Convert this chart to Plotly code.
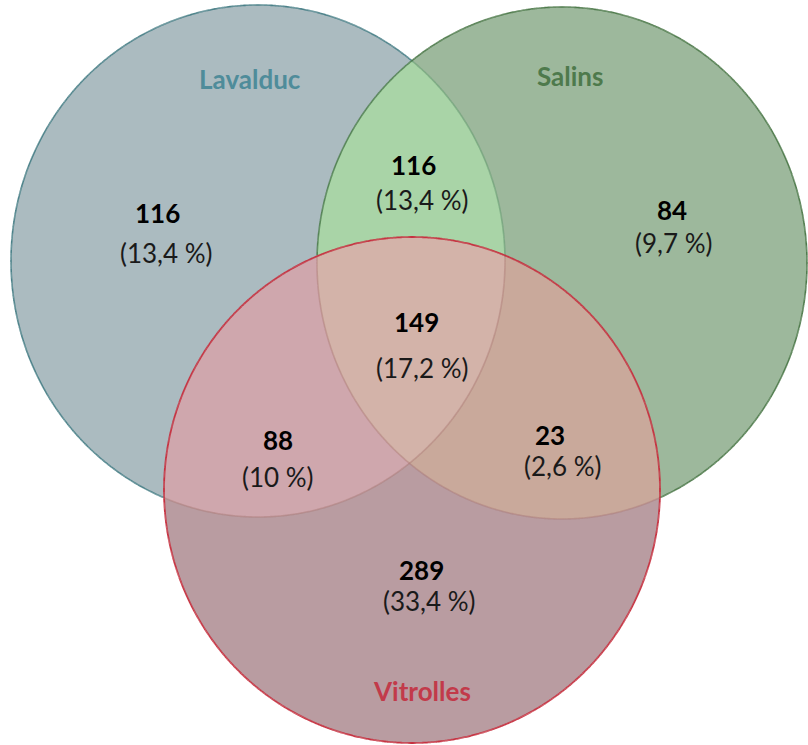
import numpy as np
import plotly.graph_objects as go

# ---------------- data ----------------
set_names = ["Lavalduc", "Salins", "Vitrolles"]
region_keys = ["L", "LS", "S", "LSV", "LV", "SV", "V"]
region_counts = [116, 116, 84, 149, 88, 23, 289]
region_percents = [13.4, 13.4, 9.7, 17.2, 10, 2.6, 33.4]

# ---------------- layout / style ----------------
W, H = 808, 745
# ellipse geometry (pixel coordinates): cx, cy, rx, ry
ellipses = {
    "L": (258, 261, 247, 256),
    "S": (562, 263, 245, 256),
    "V": (412, 490, 248, 253),
}
fill_colors = {
    "L": "#ABBBC0",
    "S": "#9DB89C",
    "V": "#B99CA1",
    "LS": "#A9D4A7",
    "LV": "#CFA7AD",
    "SV": "#C9A99B",
    "LSV": "#D3B3A9",
}
line_colors = {"L": "#4A8088", "S": "#4E7A4B", "V": "#C6303F"}
label_colors = {"Lavalduc": "#4F8C9A", "Salins": "#4E7A4C", "Vitrolles": "#C23A4A"}
label_pos = {"Lavalduc": (250, 79), "Salins": (570, 76), "Vitrolles": (422, 691)}
count_pos = {"L": (157, 213), "LS": (413, 165), "S": (672, 210), "LSV": (416, 322),
             "LV": (278, 440), "SV": (550, 435), "V": (421, 570)}
pct_pos = {"L": (166, 253), "LS": (422, 200), "S": (673, 243), "LSV": (422, 368),
           "LV": (278, 477), "SV": (562, 466), "V": (429, 601)}
FONT = "Lato"
FS = 26


def ellipse_poly(key, n=720):
    cx, cy, rx, ry = ellipses[key]
    t = np.linspace(0, 2 * np.pi, n, endpoint=False)
    return list(zip(cx + rx * np.cos(t), cy + ry * np.sin(t)))


def signed_area(poly):
    a = 0.0
    for i in range(len(poly)):
        x1, y1 = poly[i]
        x2, y2 = poly[(i + 1) % len(poly)]
        a += x1 * y2 - x2 * y1
    return a / 2


def clip(subject, clipper):
    orient = 1 if signed_area(clipper) > 0 else -1

    def inside(p, a, b):
        return orient * ((b[0] - a[0]) * (p[1] - a[1]) - (b[1] - a[1]) * (p[0] - a[0])) >= 0

    def inter(p1, p2, a, b):
        x1, y1 = p1; x2, y2 = p2; x3, y3 = a; x4, y4 = b
        den = (x1 - x2) * (y3 - y4) - (y1 - y2) * (x3 - x4)
        if den == 0:
            return p2
        t = ((x1 - x3) * (y3 - y4) - (y1 - y3) * (x3 - x4)) / den
        return (x1 + t * (x2 - x1), y1 + t * (y2 - y1))

    out = subject
    for i in range(len(clipper)):
        a = clipper[i]
        b = clipper[(i + 1) % len(clipper)]
        inp = out
        out = []
        if not inp:
            break
        s = inp[-1]
        for e in inp:
            if inside(e, a, b):
                if not inside(s, a, b):
                    out.append(inter(s, e, a, b))
                out.append(e)
            elif inside(s, a, b):
                out.append(inter(s, e, a, b))
            s = e
    return out


def inside_ellipse(x, y, key):
    cx, cy, rx, ry = ellipses[key]
    return ((x - cx) / rx) ** 2 + ((y - cy) / ry) ** 2 < 1


polys = {k: ellipse_poly(k) for k in ["L", "S", "V"]}
polys["LS"] = clip(polys["L"], polys["S"])
polys["LV"] = clip(polys["L"], polys["V"])
polys["SV"] = clip(polys["S"], polys["V"])
polys["LSV"] = clip(polys["LS"], polys["V"])

fig = go.Figure()
for key in ["L", "S", "V", "LS", "LV", "SV", "LSV"]:
    p = polys[key] + [polys[key][0]]
    fig.add_trace(go.Scatter(
        x=[q[0] for q in p], y=[q[1] for q in p], mode="lines", fill="toself",
        fillcolor=fill_colors[key], line=dict(width=0, color=fill_colors[key]),
        hoverinfo="skip", showlegend=False))


def add_outline(key, color_fn, width):
    cx, cy, rx, ry = ellipses[key]
    t = np.linspace(0, 2 * np.pi, 1441)
    xs = cx + rx * np.cos(t)
    ys = cy + ry * np.sin(t)
    cats = [color_fn(x, y) for x, y in zip(xs, ys)]
    groups = {}
    for i in range(len(t) - 1):
        c = cats[i]
        g = groups.setdefault(c, ([], []))
        g[0].extend([xs[i], xs[i + 1], None])
        g[1].extend([ys[i], ys[i + 1], None])
    for c, (gx, gy) in groups.items():
        fig.add_trace(go.Scatter(x=gx, y=gy, mode="lines",
                                 line=dict(color=c, width=width),
                                 hoverinfo="skip", showlegend=False))


def l_color(x, y):
    if inside_ellipse(x, y, "V"):
        return "rgba(170,120,115,0.45)"
    if inside_ellipse(x, y, "S"):
        return "rgba(110,160,120,0.7)"
    return line_colors["L"]


def s_color(x, y):
    if inside_ellipse(x, y, "V"):
        return "rgba(170,120,115,0.45)"
    if inside_ellipse(x, y, "L"):
        return "rgba(70,120,70,0.85)"
    return line_colors["S"]


add_outline("L", l_color, 1.6)
add_outline("S", s_color, 1.6)
add_outline("V", lambda x, y: line_colors["V"], 1.8)

annotations = []
for name in set_names:
    x, y = label_pos[name]
    annotations.append(dict(x=x, y=y, text=f"<b>{name}</b>", showarrow=False,
                            font=dict(family=FONT, size=FS, color=label_colors[name]),
                            xanchor="center", yanchor="middle"))
for key, cnt, pct in zip(region_keys, region_counts, region_percents):
    x, y = count_pos[key]
    annotations.append(dict(x=x, y=y, text=f"<b>{cnt}</b>", showarrow=False,
                            font=dict(family=FONT, size=FS, color="#000000"),
                            xanchor="center", yanchor="middle"))
    x, y = pct_pos[key]
    ptxt = f"{pct:g}".replace(".", ",")
    annotations.append(dict(x=x, y=y, text=f"({ptxt} %)", showarrow=False,
                            font=dict(family=FONT, size=FS, color="#1a1a1a"),
                            xanchor="center", yanchor="middle"))

fig.update_layout(
    width=W, height=H, margin=dict(l=0, r=0, t=0, b=0),
    paper_bgcolor="white", plot_bgcolor="white",
    xaxis=dict(range=[0, W], visible=False, fixedrange=True),
    yaxis=dict(range=[H, 0], visible=False, fixedrange=True),
    annotations=annotations, showlegend=False,
)
fig.write_html("out.html", config={"displayModeBar": False},
               post_script="document.body.style.margin='0';document.body.style.overflow='hidden';")
